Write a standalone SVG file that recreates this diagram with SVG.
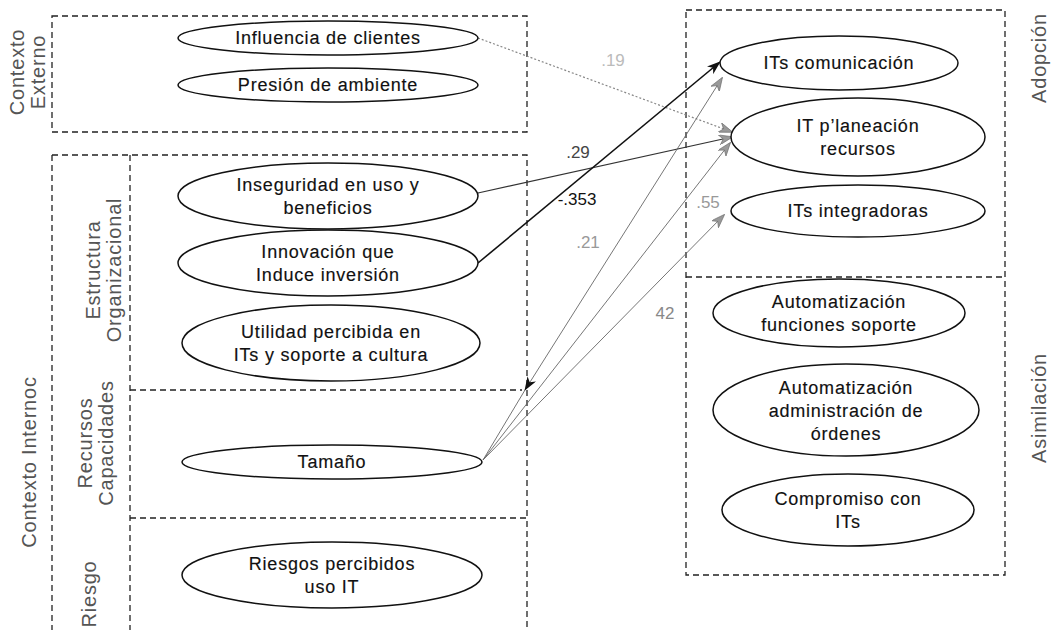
<svg xmlns="http://www.w3.org/2000/svg" width="1051" height="630" viewBox="0 0 1051 630">
  <style>
    .frame { fill: none; stroke: #222; stroke-width: 1.3; stroke-dasharray: 6 4; }
    .node ellipse { fill: #fff; stroke: #111; stroke-width: 1.5; }
    .node text { font-family: "Liberation Sans", Arial, sans-serif; font-size: 18px; letter-spacing: 0.8px; fill: #111; stroke: #111; stroke-width: 0.15; text-anchor: middle; }
    .side { font-family: "Liberation Sans", Arial, sans-serif; font-size: 20px; letter-spacing: 0.8px; fill: #555; text-anchor: middle; }
    .coef { font-family: "Liberation Sans", Arial, sans-serif; font-size: 17px; text-anchor: middle; }
  </style>
  <defs>
    <marker id="arrowGray" viewBox="0 0 14 10" refX="13" refY="5" markerWidth="14" markerHeight="10" markerUnits="userSpaceOnUse" orient="auto-start-reverse">
      <path d="M0,0 L14,5 L0,10 L4,5 Z" fill="#999" stroke="#666" stroke-width="0.6"/>
    </marker>
    <marker id="arrowBlack" viewBox="0 0 14 10" refX="13" refY="5" markerWidth="14" markerHeight="10" markerUnits="userSpaceOnUse" orient="auto">
      <path d="M0,0 L14,5 L0,10 L4,5 Z" fill="#111"/>
    </marker>
  </defs>

  <rect width="1051" height="630" fill="#fff"/>

  <!-- group frames -->
  <g id="frames">
    <rect class="frame" x="52" y="16" width="475" height="116"/>
    <path class="frame" d="M52,155 H527 V518 M52,155 V630"/>
    <path class="frame" d="M130,155 V630"/>
    <path class="frame" d="M130,390 H522"/>
    <path class="frame" d="M130,518 H527 V630"/>
    <rect class="frame" x="686" y="10" width="319" height="565"/>
    <path class="frame" d="M686,277 H1005"/>
  </g>

  <!-- side captions -->
  <g id="captions">
    <text class="side" transform="translate(24,72) rotate(-90)">Contexto</text>
    <text class="side" transform="translate(45,72) rotate(-90)">Externo</text>
    <text class="side" transform="translate(36,462) rotate(-90)">Contexto Internoc</text>
    <text class="side" transform="translate(100,270) rotate(-90)">Estructura</text>
    <text class="side" transform="translate(121,270) rotate(-90)">Organizacional</text>
    <text class="side" transform="translate(92,443) rotate(-90)">Recursos</text>
    <text class="side" transform="translate(113,443) rotate(-90)">Capacidades</text>
    <text class="side" transform="translate(96,594) rotate(-90)">Riesgo</text>
    <text class="side" transform="translate(1046,58) rotate(-90)">Adopción</text>
    <text class="side" transform="translate(1046,408) rotate(-90)">Asimilación</text>
  </g>

  <!-- connectors -->
  <g id="connectors" fill="none">
    <path d="M478,38 L732,132" stroke="#888" stroke-width="1.2" stroke-dasharray="2 2" marker-end="url(#arrowGray)"/>
    <path d="M478,193 L732,137" stroke="#333" stroke-width="1.2" marker-end="url(#arrowGray)"/>
    <path d="M478,263 L720,62" stroke="#111" stroke-width="1.6" marker-end="url(#arrowBlack)"/>
    <path d="M722,78 L525,390 L483,460" stroke="#666" stroke-width="0.9" marker-start="url(#arrowGray)" marker-mid="url(#arrowBlack)"/>
    <path d="M483,460 L730,143" stroke="#666" stroke-width="0.9" marker-end="url(#arrowGray)"/>
    <path d="M483,460 L724,215" stroke="#666" stroke-width="0.9" marker-end="url(#arrowGray)"/>
    <text class="coef" x="613" y="66" fill="#bbb">.19</text>
    <text class="coef" x="578" y="158" fill="#444">.29</text>
    <text class="coef" x="577" y="205" fill="#111">-.353</text>
    <text class="coef" x="588" y="248" fill="#999">.21</text>
    <text class="coef" x="708" y="208" fill="#999">.55</text>
    <text class="coef" x="665" y="319" fill="#888">42</text>
  </g>

  <!-- external context -->
  <g id="influencia-clientes" class="node">
    <ellipse cx="328" cy="38" rx="150" ry="17"/>
    <text x="328" y="44">Influencia de clientes</text>
  </g>
  <g id="presion-ambiente" class="node">
    <ellipse cx="328" cy="85" rx="150" ry="17"/>
    <text x="328" y="91">Presión de ambiente</text>
  </g>

  <!-- internal context -->
  <g id="inseguridad" class="node">
    <ellipse cx="328" cy="196" rx="150" ry="33"/>
    <text x="328" y="191">Inseguridad en uso y</text>
    <text x="328" y="214">beneficios</text>
  </g>
  <g id="innovacion" class="node">
    <ellipse cx="328" cy="263" rx="150" ry="33"/>
    <text x="328" y="258">Innovación que</text>
    <text x="328" y="281">Induce inversión</text>
  </g>
  <g id="utilidad" class="node">
    <ellipse cx="331" cy="343" rx="149" ry="38"/>
    <text x="331" y="338">Utilidad percibida en</text>
    <text x="331" y="361">ITs y soporte a cultura</text>
  </g>
  <g id="tamano" class="node">
    <ellipse cx="332" cy="462" rx="150" ry="17"/>
    <text x="332" y="468">Tamaño</text>
  </g>
  <g id="riesgos" class="node">
    <ellipse cx="332" cy="575" rx="150" ry="33"/>
    <text x="332" y="570">Riesgos percibidos</text>
    <text x="332" y="593">uso IT</text>
  </g>

  <!-- adoption -->
  <g id="its-comunicacion" class="node">
    <ellipse cx="839" cy="63" rx="119" ry="27"/>
    <text x="839" y="69">ITs comunicación</text>
  </g>
  <g id="it-planeacion" class="node">
    <ellipse cx="858" cy="137" rx="127" ry="39"/>
    <text x="858" y="132">IT p’laneación</text>
    <text x="858" y="155">recursos</text>
  </g>
  <g id="its-integradoras" class="node">
    <ellipse cx="858" cy="211" rx="127" ry="26"/>
    <text x="858" y="217">ITs integradoras</text>
  </g>

  <!-- assimilation -->
  <g id="automatizacion-soporte" class="node">
    <ellipse cx="839" cy="313" rx="126" ry="34"/>
    <text x="839" y="308">Automatización</text>
    <text x="839" y="331">funciones soporte</text>
  </g>
  <g id="automatizacion-ordenes" class="node">
    <ellipse cx="846" cy="410" rx="133" ry="46"/>
    <text x="846" y="394">Automatización</text>
    <text x="846" y="417">administración de</text>
    <text x="846" y="440">órdenes</text>
  </g>
  <g id="compromiso" class="node">
    <ellipse cx="848" cy="510" rx="126" ry="36"/>
    <text x="848" y="505">Compromiso con</text>
    <text x="848" y="528">ITs</text>
  </g>
</svg>
